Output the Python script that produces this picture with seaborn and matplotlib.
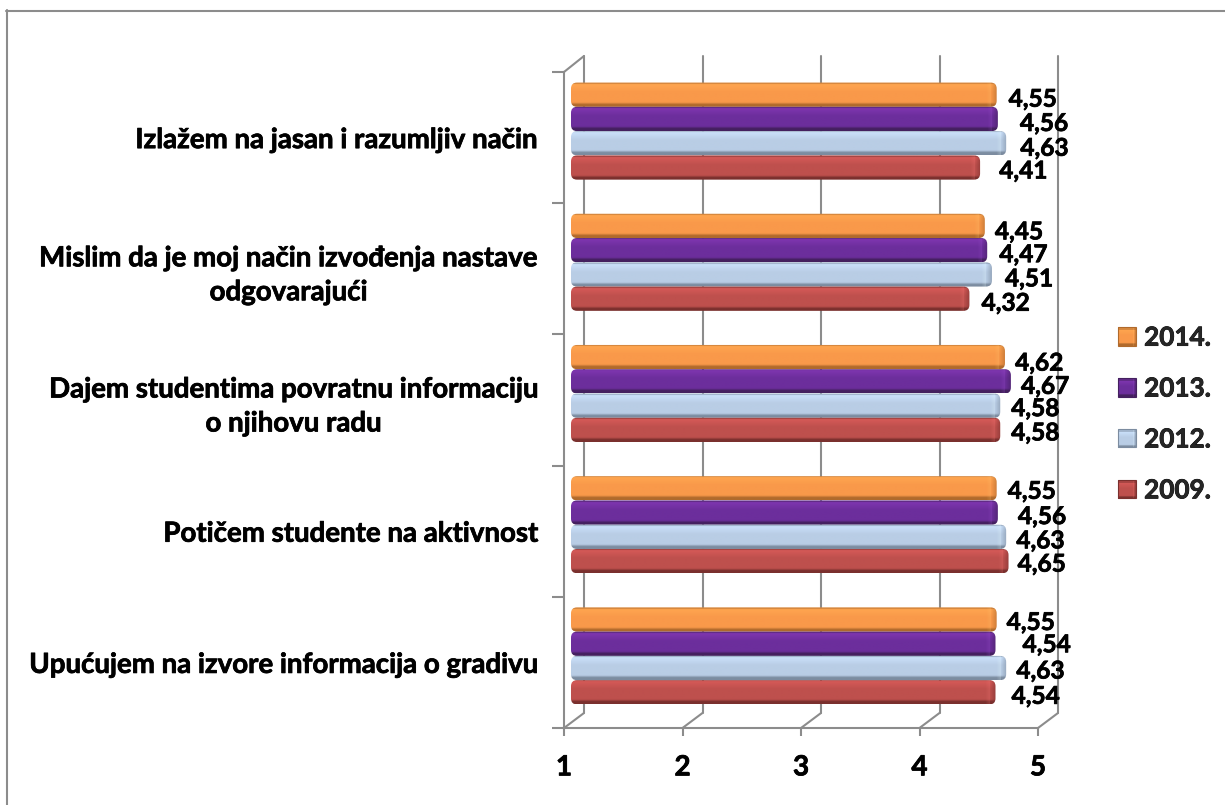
import numpy as np
import pandas as pd
import seaborn as sns
import matplotlib
matplotlib.use("Agg")
import matplotlib.pyplot as plt
import matplotlib.patheffects as pe
from matplotlib.patches import FancyBboxPatch, Rectangle
from matplotlib.lines import Line2D
from matplotlib.transforms import IdentityTransform
from matplotlib.colors import to_rgb

questions = ["Izlažem na jasan i razumljiv način",
             "Mislim da je moj način izvođenja nastave\nodgovarajući",
             "Dajem studentima povratnu informaciju\no njihovu radu",
             "Potičem studente na aktivnost",
             "Upućujem na izvore informacija o gradivu"]
years = ["2014.", "2013.", "2012.", "2009."]
v2014 = [4.55, 4.45, 4.62, 4.55, 4.55]
v2013 = [4.56, 4.47, 4.67, 4.56, 4.54]
v2012 = [4.63, 4.51, 4.58, 4.63, 4.63]
v2009 = [4.41, 4.32, 4.58, 4.65, 4.54]
x_ticks = [1, 2, 3, 4, 5]

# manual label nudges (px) from the bar end, as in the original
nudge_x = [[36, 34, 34, 35, 34], [46, 36, 34, 44, 51], [38, 37, 35, 34, 34], [43, 36, 35, 33, 40]]
nudge_y = [[2.5, 4, 4, 1, 1], [2.5, 2.5, 3, 2, -1], [3, 2.5, 1, 2, 1], [1.5, 2.5, 1, 1, 2]]

STYLE = {
    "2014.": dict(face="#F9994A", hi="#FFA650", lo="#B06A2C"),
    "2013.": dict(face="#6C2E9C", hi="#7F36B0", lo="#44205F"),
    "2012.": dict(face="#B9CDE5", hi="#CBE1FB", lo="#7C8CA0"),
    "2009.": dict(face="#BE504D", hi="#D65A58", lo="#7A302E"),
}
W, H = 1225, 805
AX_L, AX_R, AX_T, AX_B = 564, 1038, 72, 728
GRID = "#8C8C8C"
FONT = "Lato"
BOLD = [pe.withStroke(linewidth=0.55, foreground="black")]

df = pd.DataFrame({"q": questions * 4,
                   "year": np.repeat(years, 5),
                   "v": v2014 + v2013 + v2012 + v2009})

sns.set_style("white")
plt.rcParams["font.family"] = [FONT, "DejaVu Sans"]
fig = plt.figure(figsize=(W / 100, H / 100), dpi=100, facecolor="white")
ax = fig.add_axes([AX_L / W, 1 - AX_B / H, (AX_R - AX_L) / W, (AX_B - AX_T) / H])
ax.patch.set_alpha(0)
sns.barplot(df, x="v", y="q", hue="year", hue_order=years, order=questions,
            palette=[STYLE[y]["face"] for y in years], width=0.74, gap=0, ax=ax,
            legend=True, errorbar=None, saturation=1)
ax.set_xlim(1, 5)
ax.set_ylim(4.5, -0.5)
ax.set_autoscale_on(False)
ax.set_xlabel("")
ax.set_ylabel("")
ax.set_xticks(x_ticks)
ax.set_xticklabels([str(t) for t in x_ticks], fontsize=20, fontweight="bold", color="black",
                   path_effects=BOLD)
ax.tick_params(axis="x", length=6, width=1.5, color=GRID, pad=13, bottom=True)
ax.set_yticks(np.arange(-0.5, 5, 1), minor=True)
ax.tick_params(axis="y", which="minor", length=8.6, width=1.5, color=GRID, left=True)
ax.tick_params(axis="y", which="major", length=0, pad=19)
for lab in ax.get_yticklabels():
    lab.set_fontsize(19.9)
    lab.set_fontweight("bold")
    lab.set_multialignment("center")
    lab.set_linespacing(1.38)
    lab.set_color("black")
    lab.set_path_effects(BOLD)
for s in ("top", "right"):
    ax.spines[s].set_visible(False)
for s in ("left", "bottom"):
    ax.spines[s].set_color(GRID)
    ax.spines[s].set_linewidth(1.5)

fig.canvas.draw()
ident = IdentityTransform()
DX, DY = 20, 15  # px depth of the 3-D wall


def px(x, y):
    return ax.transData.transform((x, y))


def dline(xs, ys, z=-1):
    fig.add_artist(Line2D(xs, ys, transform=ident, color=GRID, lw=1.5, zorder=z))


bx, by = px(1, 4.5)
_, ty = px(1, -0.5)
for t in x_ticks:
    xp, _ = px(t, 4.5)
    dline([xp, xp + DX], [by, by + DY])
    dline([xp + DX, xp + DX], [by + DY, ty + DY + 1])
dline([bx, bx + DX], [ty, ty + DY + 1])


def bevel(w, h, st, cap=11):
    face, hi, lo = (np.array(to_rgb(st[k])) for k in ("face", "hi", "lo"))
    w, h = int(max(w, 4)), int(max(h, 4))
    img = np.tile(face, (h, w, 1)).astype(float)
    for r in range(h):
        f = r / max(h - 1, 1)
        if f < 0.06:
            c = lo * 0.5 + hi * 0.5
        elif f < 0.4:
            c = hi + (face - hi) * (f - 0.06) / 0.34
        elif f > 0.92:
            c = lo
        elif f > 0.82:
            c = face + (lo - face) * (f - 0.82) / 0.1
        else:
            c = face
        img[r, :] = c
    capw = min(cap, w // 2)
    for i in range(capw):
        f = i / max(capw - 1, 1)
        col = w - capw + i
        if f < 0.45:
            img[:, col] = img[:, col] * (1 - 0.5 * f) + (hi + 0.12).clip(0, 1) * 0.5 * f
        else:
            img[:, col] = img[:, col] * (1 - (f - 0.45)) + lo * (f - 0.45)
    return img.clip(0, 1)


bars = [list(c) for c in ax.containers]
for i, (year, vals) in enumerate(zip(years, [v2014, v2013, v2012, v2009])):
    st = STYLE[year]
    for j, (p, v) in enumerate(zip(bars[i], vals)):
        p.set_visible(False)
        (x0, y0), (x1, y1) = ax.transData.transform(
            [(1, p.get_y() + p.get_height()), (v, p.get_y())])
        L, R = x0 + 7, x1 + 12
        B, T = y0 + 6.5, y1 + 6.5
        r = 5
        clip = FancyBboxPatch((L + r, B + r), R - L - 2 * r, T - B - 2 * r,
                              boxstyle=f"round,pad={r},rounding_size={r + 1}",
                              transform=ident, fc="none", ec="none")
        ax.add_patch(clip)
        clip.set_clip_on(False)
        im = ax.imshow(bevel(R - L, T - B, st), extent=(L, R, B, T), transform=ident,
                       aspect="auto", zorder=3, interpolation="bilinear")
        im.set_clip_path(clip)
        ax.text(R + nudge_x[i][j], (B + T) / 2 - nudge_y[i][j], f"{v:.2f}".replace(".", ","),
                transform=ident, ha="center", va="center_baseline", fontsize=17.6,
                fontweight="bold", color="black", zorder=4, clip_on=False, path_effects=BOLD)

ax.set_xlim(1, 5)
ax.set_ylim(4.5, -0.5)

if ax.get_legend():
    ax.get_legend().remove()
handles = [Rectangle((0, 0), 1, 1, fc=STYLE[y]["face"], ec="none") for y in years]
leg = fig.legend(handles, years, loc="center left", frameon=False,
                 bbox_to_anchor=(1118 / W, 1 - 414 / H), prop=dict(size=18.8, weight="bold"),
                 handlelength=0.7, handleheight=0.7, labelspacing=1.03, handletextpad=0.3,
                 borderpad=0, borderaxespad=0)
for t in leg.get_texts():
    t.set_path_effects(BOLD)
fig.canvas.draw()
for h, y in zip(leg.get_patches(), years):
    e = h.get_window_extent()
    fig.figimage(bevel(e.width, e.height, STYLE[y], cap=4), xo=int(e.x0), yo=int(e.y0),
                 zorder=7, origin="upper")
    fig.add_artist(Rectangle((e.x0, e.y0), e.width, e.height, transform=ident,
                             fc="none", ec=STYLE[y]["lo"], lw=0.8, zorder=8))

# chart frame: only the left and top edges show in the crop
fig.add_artist(Line2D([6.5, 6.5], [0, H - 10], transform=ident, color=GRID, lw=1.5, zorder=0))
fig.add_artist(Line2D([6, W], [H - 10.5, H - 10.5], transform=ident, color=GRID, lw=1.5, zorder=0))
fig.savefig("out.png", dpi=100, facecolor="white")
